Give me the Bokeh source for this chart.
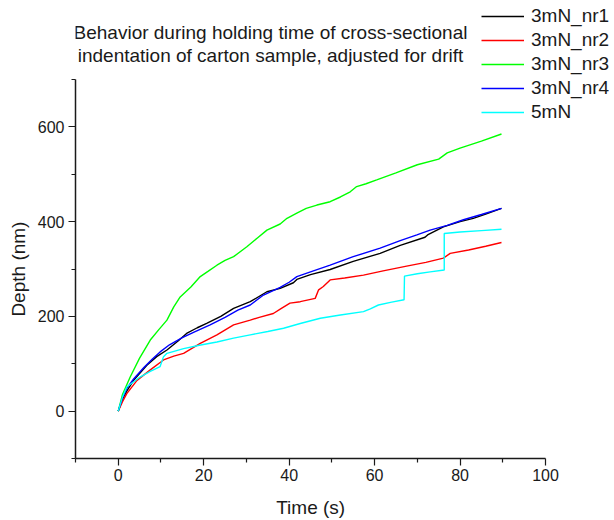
from bokeh.plotting import figure
from bokeh.models import Range1d, FixedTicker, Legend, LegendItem, Label
from bokeh.embed import file_html
from bokeh.resources import INLINE

# ---- data ----
t_nr1 = [0, 1, 2, 3.6, 6.7, 9, 11.4, 14, 16, 18.5, 20.7, 24, 27, 30.9, 34.8, 37.9, 41, 41.8, 45, 49.6,
         55, 61.3, 66, 71.8, 72.4, 76.1, 80, 83.1, 86, 89.7]
d_nr1 = [0, 25, 42, 65, 97, 115, 129, 148, 164, 176, 185, 200, 217, 231, 252, 259, 271, 278, 288, 299,
         316, 333, 350, 367, 372, 389, 400, 407, 416, 428]

t_nr2 = [0, 1, 2, 4.4, 7.5, 10.6, 13, 15.3, 19.2, 23.1, 27, 30.9, 33, 36.3, 38, 40.2, 42.6, 46.1, 46.9,
         48, 49.6, 53, 57.4, 62, 67.5, 72, 76.1, 77.7, 82, 86, 89.7]
d_nr2 = [0, 20, 37, 65, 87, 108, 116, 122, 143, 161, 182, 192, 198, 206, 216, 228, 231, 238, 256,
         263, 277, 281, 287, 296, 306, 314, 323, 333, 340, 348, 356]

t_nr3 = [0, 1, 2.8, 5, 7.5, 9.5, 11.4, 13, 14.5, 17, 19.2, 21, 23.1, 25, 27, 30.1, 32.5, 34.8, 37.9,
         39.5, 41.8, 44, 46.5, 49.6, 52, 54.3, 55.8, 58, 60.5, 65, 70, 75, 77, 80, 85, 89.7]
d_nr3 = [0, 35, 72, 112, 150, 172, 192, 220, 241, 262, 284, 295, 308, 318, 326, 347, 365, 382, 395,
         407, 418, 428, 435, 442, 452, 463, 474, 480, 488, 503, 520, 532, 545, 555, 570, 585]

t_nr4 = [0, 1, 2, 3.6, 6, 8, 9.8, 12, 15, 18, 21.5, 25, 28, 30.9, 34, 37.9, 40, 41.8, 45, 49.6, 55,
         61.3, 66, 69.9, 73, 77, 80.8, 85, 89.7]
d_nr4 = [0, 28, 48, 68, 92, 110, 125, 140, 155, 168, 182, 198, 213, 224, 245, 261, 272, 284, 294, 308,
         326, 344, 360, 372, 382, 392, 404, 415, 428]

t_5mn = [0, 1, 2, 5.1, 7.5, 9.8, 10.6, 11.4, 15.3, 19, 23.1, 27, 30.9, 35, 38.7, 42.6, 47.3, 52, 57.4,
         59, 60.9, 64, 66.9, 67, 70, 73, 76.3, 76.3, 80, 85, 89.7]
d_5mn = [0, 30, 51, 72, 84, 94, 115, 122, 132, 139, 146, 154, 161, 168, 175, 185, 196, 203, 210,
         216, 224, 230, 235, 285, 290, 294, 298, 375, 378, 381, 384]

series_names = ["3mN_nr1", "3mN_nr2", "3mN_nr3", "3mN_nr4", "5mN"]
series_colors = ["#000000", "#ff0000", "#00ff00", "#0000ff", "#00ffff"]
series_t = [t_nr1, t_nr2, t_nr3, t_nr4, t_5mn]
series_d = [d_nr1, d_nr2, d_nr3, d_nr4, d_5mn]

x_bounds = (-10, 100)
y_bounds = (-100, 700)
x_major = [0, 20, 40, 60, 80, 100]
x_minor = [-10, 10, 30, 50, 70, 90]
y_major = [0, 200, 400, 600]
y_minor = [-100, 100, 300, 500, 700]

title_lines = ["Behavior during holding time of cross-sectional",
               "indentation of carton sample, adjusted for drift"]
x_label = "Time (s)"
y_label = "Depth (nm)"

FONT = "Liberation Sans"
NBSP = "\u00a0"

W, H = 614, 520
L, B = 75, 62
ax_px_w = 470.0
ax_px_h = 379.0
x_end = x_bounds[1] + (W - L - ax_px_w) * (x_bounds[1] - x_bounds[0]) / ax_px_w
y_end = y_bounds[1] + (H - B - ax_px_h) * (y_bounds[1] - y_bounds[0]) / ax_px_h

p = figure(width=W, height=H, output_backend="svg", toolbar_location=None,
           x_range=Range1d(x_bounds[0], x_end), y_range=Range1d(y_bounds[0], y_end),
           min_border_left=L, min_border_right=0, min_border_top=0, min_border_bottom=B)
p.outline_line_color = None
p.xgrid.visible = False
p.ygrid.visible = False
p.background_fill_color = "white"
p.border_fill_color = "white"

renderers = []
for t, d, c in zip(series_t, series_d, series_colors):
    r = p.line(t, d, line_color=c, line_width=1.4)
    renderers.append(r)

for ax, maj, mnr, bnd in ((p.xaxis[0], x_major, x_minor, x_bounds),
                          (p.yaxis[0], y_major, y_minor, y_bounds)):
    ax.bounds = bnd
    ax.ticker = FixedTicker(ticks=maj, minor_ticks=mnr)
    ax.axis_line_width = 1.5
    ax.axis_line_color = "#1a1a1a"
    ax.major_tick_line_color = "#1a1a1a"
    ax.minor_tick_line_color = "#1a1a1a"
    ax.major_tick_line_width = 1.2
    ax.minor_tick_line_width = 1.2
    ax.major_tick_in = 0
    ax.major_tick_out = 7
    ax.minor_tick_in = 0
    ax.minor_tick_out = 4
    ax.major_label_text_font = FONT
    ax.major_label_text_font_size = "16px"
    ax.major_label_text_color = "#1a1a1a"
    ax.axis_label_text_font = FONT
    ax.axis_label_text_font_size = "19px"
    ax.axis_label_text_font_style = "normal"
    ax.axis_label_text_color = "#1a1a1a"

# the frame extends to the canvas top/right; trailing no-break spaces re-centre
# the axis titles on the drawn (bounded) part of each axis
p.xaxis.axis_label = x_label + NBSP * 13
p.yaxis.axis_label = y_label + NBSP * 15
p.xaxis.major_label_standoff = 3
p.xaxis.axis_label_standoff = 13
p.yaxis.major_label_standoff = 4
p.yaxis.axis_label_standoff = 6

items = [LegendItem(label=n, renderers=[r]) for n, r in zip(series_names, renderers)]
legend = Legend(items=items, location=(406, 335))
legend.glyph_width = 43
legend.glyph_height = 18
legend.label_height = 18
legend.label_standoff = 7
legend.spacing = 2
legend.padding = 0
legend.margin = 0
legend.border_line_color = None
legend.background_fill_alpha = 0
legend.label_text_font = FONT
legend.label_text_font_size = "19px"
legend.label_text_color = "#1a1a1a"
p.add_layout(legend, "center")

for i, line in enumerate(title_lines):
    p.add_layout(Label(x=195, y=426 - 23 * i, x_units="screen", y_units="screen", text=line,
                       text_align="center", text_baseline="middle", text_font=FONT,
                       text_font_size="19px", text_color="#1a1a1a"))

open("out.html", "w").write(file_html(p, INLINE))
